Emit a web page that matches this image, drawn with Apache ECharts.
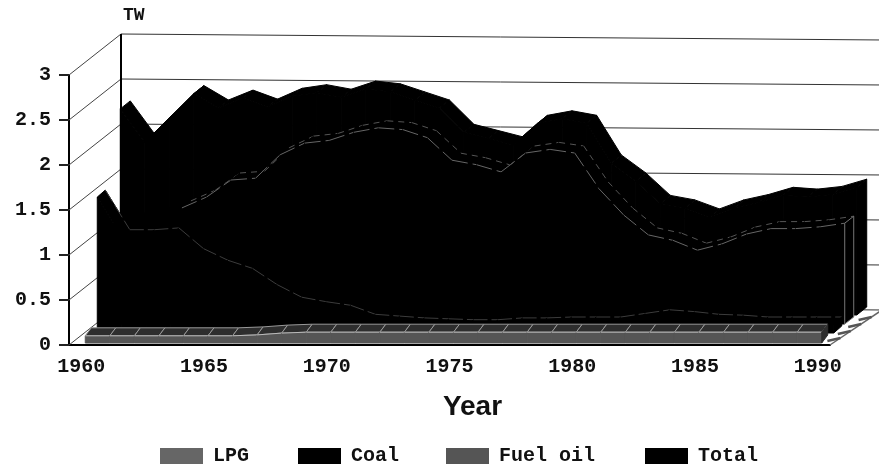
<!DOCTYPE html>
<html>
<head>
<meta charset="utf-8">
<style>
  html, body { margin: 0; padding: 0; background: #fff; }
  #chart { width: 879px; height: 467px; }
</style>
<script src="https://cdn.jsdelivr.net/npm/echarts@6/dist/echarts.min.js"></script>
</head>
<body>
<div id="chart"></div>
<script>
// values, TW
const years = [];
for (let y = 1960; y <= 1990; y++) years.push(String(y));
const yTicks = [0, 0.5, 1, 1.5, 2, 2.5, 3];
const lpg = [0.08, 0.08, 0.08, 0.08, 0.08, 0.08, 0.08, 0.09, 0.11, 0.12, 0.12, 0.12, 0.12, 0.12, 0.12, 0.12, 0.12, 0.12, 0.12, 0.12, 0.12, 0.12, 0.12, 0.12, 0.12, 0.12, 0.12, 0.12, 0.12, 0.12, 0.12];
const coal = [1.51, 1.07, 1.07, 1.09, 0.86, 0.73, 0.64, 0.46, 0.32, 0.27, 0.23, 0.13, 0.11, 0.09, 0.08, 0.07, 0.07, 0.09, 0.09, 0.1, 0.1, 0.1, 0.14, 0.18, 0.16, 0.13, 0.12, 0.1, 0.1, 0.1, 0.1];
const fuelOil = [1.05, 1.15, 1.2, 1.29, 1.41, 1.6, 1.62, 1.88, 2.01, 2.04, 2.13, 2.18, 2.16, 2.07, 1.82, 1.77, 1.69, 1.9, 1.94, 1.9, 1.5, 1.21, 0.99, 0.93, 0.82, 0.89, 1.0, 1.06, 1.06, 1.08, 1.12];
const total = [2.29, 1.92, 2.19, 2.46, 2.3, 2.41, 2.31, 2.43, 2.47, 2.42, 2.51, 2.48, 2.39, 2.3, 2.03, 1.96, 1.89, 2.13, 2.18, 2.13, 1.69, 1.49, 1.24, 1.19, 1.09, 1.19, 1.25, 1.33, 1.31, 1.34, 1.42];

const WALL_DX = 52, WALL_DY = -41, WALL_TILT = 6;

// one extruded ribbon per fuel, o holds the dx,dy of its edges and its colours
function ribbon(values, o) {
  const at = (p, d) => [p[0] + d[0], p[1] + d[1]];
  return function (params, api) {
    const i = params.dataIndex;
    if (i >= values.length - 1) {
      // closing side at 1990
      const a = api.coord([i, 0]), b = api.coord([i, values[i]]);
      return {
        type: 'polygon',
        shape: { points: [at(a, o.front), at(b, o.front), at(b, o.back), at(a, o.back)] },
        style: { fill: o.top, stroke: o.sideEdge || o.top, lineWidth: 1 }
      };
    }
    const p0 = api.coord([i, values[i]]), p1 = api.coord([i + 1, values[i + 1]]);
    const b0 = api.coord([i, 0]), b1 = api.coord([i + 1, 0]);
    const kids = [
      { type: 'polygon', shape: { points: [at(p0, o.front), at(p1, o.front), at(p1, o.back), at(p0, o.back)] },
        style: { fill: o.top, stroke: o.topEdge || o.top, lineWidth: 1 } },
      { type: 'polygon', shape: { points: [at(b0, o.front), at(p0, o.front), at(p1, o.front), at(b1, o.front)] },
        style: { fill: o.face, stroke: o.face, lineWidth: 1 } }
    ];
    if (i >= (o.edgeFrom || 0)) {
      if (o.frontLine) {
        const a = at(p0, o.front), b = at(p1, o.front);
        kids.push({ type: 'line', shape: { x1: a[0], y1: a[1], x2: b[0], y2: b[1] },
          style: { stroke: o.frontLine, lineWidth: 1, lineDash: o.frontDash } });
      }
      if (o.backLine) {
        const a = at(p0, o.back), b = at(p1, o.back);
        kids.push({ type: 'line', shape: { x1: a[0], y1: a[1], x2: b[0], y2: b[1] },
          style: { stroke: o.backLine, lineWidth: 1, lineDash: o.backDash } });
      }
    }
    return { type: 'group', children: kids };
  };
}

function layer(name, values, legendColor, render, z) {
  return {
    name: name,
    type: 'custom',
    coordinateSystem: 'cartesian2d',
    clip: false,
    z: z,
    itemStyle: { color: legendColor },
    data: values.map((v, i) => [i, v]),
    encode: { x: 0, y: 1 },
    renderItem: render
  };
}

// back wall rules and the slanted rules on the left side wall
function wall(params, api) {
  const v = yTicks[params.dataIndex];
  const band = api.size([1, 0])[0];
  const a = api.coord([0, v]), b = api.coord([30, v]);
  const xl = a[0] - band / 2, xr = b[0] + band / 2;
  return {
    type: 'group',
    children: [
      { type: 'line', shape: { x1: xl, y1: a[1], x2: xl + WALL_DX, y2: a[1] + WALL_DY },
        style: { stroke: '#444', lineWidth: 1 } },
      { type: 'line', shape: { x1: xl + WALL_DX, y1: a[1] + WALL_DY, x2: xr + WALL_DX, y2: b[1] + WALL_DY + WALL_TILT },
        style: { stroke: '#333', lineWidth: 1 } }
    ]
  };
}

// wall corner post, drawn once
function post(params, api) {
  const band = api.size([1, 0])[0];
  const a = api.coord([0, 0]), t = api.coord([0, 3]);
  const x = a[0] - band / 2 + WALL_DX;
  return { type: 'line', shape: { x1: x, y1: a[1] + WALL_DY, x2: x, y2: t[1] + WALL_DY },
    style: { stroke: '#000', lineWidth: 2 } };
}

// floor strip on the right, outer edge and its rungs
function floor(params, api) {
  const band = api.size([1, 0])[0];
  const r = api.coord([30, 0]);
  const x0 = r[0] + band / 2, y0 = r[1];
  const kids = [{ type: 'line', shape: { x1: x0, y1: y0, x2: x0 + WALL_DX, y2: y0 + WALL_DY + WALL_TILT },
    style: { stroke: '#666', lineWidth: 1.5 } }];
  for (let f = 0.2; f < 0.95; f += 0.2) {
    const x = x0 + WALL_DX * f, y = y0 + (WALL_DY + WALL_TILT) * f;
    kids.push({ type: 'line', shape: { x1: x, y1: y, x2: x - 13, y2: y + 3 }, style: { stroke: '#555', lineWidth: 2.5 } });
  }
  return { type: 'group', children: kids };
}

const tickFont = { fontFamily: 'Liberation Mono', fontWeight: 'bold', fontSize: 20, color: '#111' };

function legendAt(name, left) {
  return {
    data: [name], left: left, top: 446, itemWidth: 43, itemHeight: 16, padding: 0,
    icon: 'rect', selectedMode: false,
    textStyle: { fontFamily: 'Liberation Mono', fontWeight: 'bold', fontSize: 20, color: '#111', padding: [0, 0, 0, 5] }
  };
}

const chart = echarts.init(document.getElementById('chart'), null, { renderer: 'canvas' });
chart.setOption({
  animation: false,
  backgroundColor: '#fff',
  graphic: [
    { type: 'text', left: 123, top: 6, style: { text: 'TW', fontFamily: 'Liberation Mono', fontWeight: 'bold', fontSize: 18, fill: '#111' } }
  ],
  legend: [legendAt('LPG', 160), legendAt('Coal', 298), legendAt('Fuel oil', 446), legendAt('Total', 645)],
  grid: { left: 69, right: 49, top: 75, bottom: 122 },
  xAxis: {
    type: 'category',
    data: years,
    name: 'Year',
    nameLocation: 'middle',
    nameGap: 48,
    nameTextStyle: { fontFamily: 'Liberation Sans', fontWeight: 'bold', fontSize: 28, color: '#111', padding: [0, 0, 0, 46] },
    axisLine: { lineStyle: { color: '#000', width: 2 } },
    axisTick: { alignWithLabel: true, interval: 0, length: 7, lineStyle: { color: '#222', width: 2 } },
    axisLabel: Object.assign({ interval: 4, margin: 12 }, tickFont),
    splitLine: { show: false }
  },
  yAxis: {
    type: 'value',
    min: 0,
    max: 3,
    interval: 0.5,
    axisLine: { show: true, lineStyle: { color: '#000', width: 2 } },
    axisTick: { show: true, length: 10, lineStyle: { color: '#222', width: 2 } },
    axisLabel: Object.assign({ margin: 18 }, tickFont),
    splitLine: { show: false }
  },
  series: [
    { type: 'custom', silent: true, z: 1, clip: false, data: yTicks.map(v => [0, v]), encode: { x: 0, y: 1 }, renderItem: wall },
    { type: 'custom', silent: true, z: 1, clip: false, data: [[0, 0]], encode: { x: 0, y: 1 }, renderItem: post },
    { type: 'custom', silent: true, z: 1, clip: false, data: [[0, 0]], encode: { x: 0, y: 1 }, renderItem: floor },
    layer('Total', total, '#000', ribbon(total, { front: [39, -30], back: [49, -38], face: '#000', top: '#000' }), 2),
    layer('Fuel oil', fuelOil, '#555', ribbon(fuelOil, { front: [27, -21], back: [36, -28], face: '#000', top: '#000', sideEdge: '#777',
      frontLine: '#666', frontDash: [16, 5], backLine: '#555', backDash: [6, 5], edgeFrom: 3 }), 3),
    layer('Coal', coal, '#000', ribbon(coal, { front: [16, -12], back: [24, -19], face: '#000', top: '#000',
      backLine: '#3c3c3c', backDash: [14, 4] }), 4),
    layer('LPG', lpg, '#666', ribbon(lpg, { front: [4, -2], back: [10, -10], face: '#555', top: '#2e2e2e', topEdge: '#999', frontLine: '#bbb' }), 5)
  ]
});
</script>
</body>
</html>
